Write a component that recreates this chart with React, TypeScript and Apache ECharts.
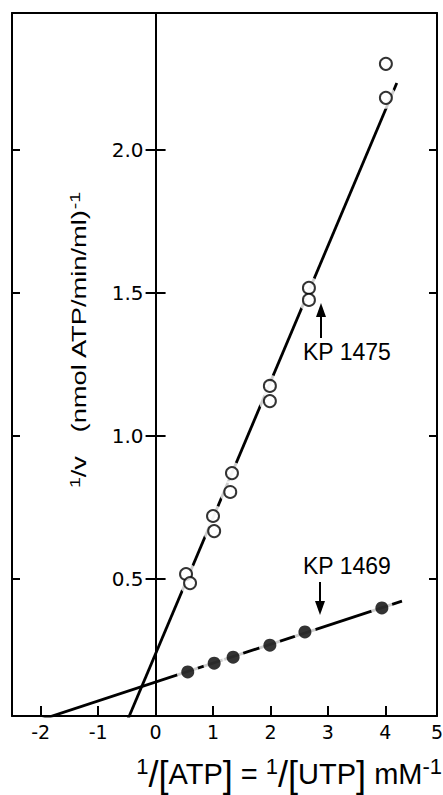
import React, { useEffect, useRef } from "react";
import * as echarts from "echarts";

// Axis ranges and tick labels
const xMin = -2.5;
const xMax = 4.9;
const yMin = 0.02;
const yMax = 2.48;
const xTickValues = [-2, -1, 0, 1, 2, 3, 4];
const xInnerTickValues = [-2, -1, 1, 2, 3, 4];
const xEndTickValues = [5];
const yTickValues = [0.5, 1.0, 1.5, 2.0];

// KP 1475 (open circles): [1/[ATP], 1/v]
const kp1475Points = [
  [0.53, 0.517],
  [0.6, 0.485],
  [1.0, 0.72],
  [1.02, 0.667],
  [1.3, 0.804],
  [1.33, 0.87],
  [1.99, 1.175],
  [1.99, 1.122],
  [2.67, 1.518],
  [2.67, 1.476],
  [4.01, 2.302],
  [4.01, 2.183],
];

// KP 1469 (filled circles)
const kp1469Points = [
  [0.56, 0.174],
  [1.02, 0.205],
  [1.35, 0.226],
  [1.99, 0.268],
  [2.6, 0.314],
  [3.94, 0.398],
];

// Fitted lines (end points)
const kp1475Fit = [
  [-0.5, 0],
  [4.2, 2.235],
];
const kp1469Fit = [
  [-2.1, 0],
  [4.29, 0.422],
];

const INK = "#000";
const TICK_FONT = "DejaVu Sans";
const TEXT_FONT = "Liberation Sans";

const W = 443;
const H = 795;
const GRID_LEFT = 12;
const GRID_RIGHT = 6;
const GRID_TOP = 13;
const GRID_BOTTOM = 79;

export default function App() {
  const ref = useRef<HTMLDivElement>(null);

  useEffect(() => {
    if (!ref.current) return;
    const chart = echarts.init(ref.current, undefined, { renderer: "svg" });
    const frameLine = { color: INK, width: 2 };
    const plotW = W - GRID_LEFT - GRID_RIGHT;
    // pixel distance from the left frame to x = 0, derived from the x scale
    const zeroFromLeft = ((0 - xMin) / (xMax - xMin)) * plotW;
    const zeroFromRight = plotW - zeroFromLeft;

    const noSplit = { splitLine: { show: false } };
    const tickLine = { color: INK, width: 2 };

    const option: any = {
      animation: false,
      backgroundColor: "#fff",
      grid: [
        {
          left: GRID_LEFT,
          right: GRID_RIGHT,
          top: GRID_TOP,
          bottom: GRID_BOTTOM,
          containLabel: false,
          outerBoundsMode: "none",
        },
        {
          left: GRID_LEFT,
          right: GRID_RIGHT,
          top: GRID_TOP,
          bottom: GRID_BOTTOM,
          containLabel: false,
          outerBoundsMode: "none",
        },
      ],
      xAxis: [
        {
          gridIndex: 0,
          type: "value",
          position: "bottom",
          min: xMin,
          max: xMax,
          axisLine: { show: true, onZero: false, lineStyle: frameLine },
          axisTick: {
            show: true,
            inside: true,
            length: 10,
            customValues: xInnerTickValues,
            lineStyle: tickLine,
          },
          axisLabel: {
            show: true,
            customValues: xTickValues,
            margin: 6,
            color: INK,
            fontFamily: TICK_FONT,
            fontSize: 19,
          },
          ...noSplit,
        },
        {
          gridIndex: 0,
          type: "value",
          position: "top",
          min: xMin,
          max: xMax,
          axisLine: { show: true, onZero: false, lineStyle: frameLine },
          axisTick: { show: false },
          axisLabel: { show: false },
          ...noSplit,
        },
        {
          // the "5" at the right-hand frame
          gridIndex: 1,
          type: "value",
          position: "bottom",
          min: xMin,
          max: 5,
          axisLine: { show: false, onZero: false },
          axisTick: { show: false },
          axisLabel: {
            show: true,
            customValues: xEndTickValues,
            margin: 6,
            color: INK,
            fontFamily: TICK_FONT,
            fontSize: 19,
          },
          ...noSplit,
        },
      ],
      yAxis: [
        {
          // the y axis drawn at x = 0, labels on its left
          gridIndex: 0,
          type: "value",
          position: "left",
          offset: -zeroFromLeft,
          min: yMin,
          max: yMax,
          axisLine: { show: true, onZero: false, lineStyle: frameLine },
          axisTick: {
            show: true,
            inside: false,
            length: 10,
            customValues: yTickValues,
            lineStyle: tickLine,
          },
          axisLabel: {
            show: true,
            customValues: yTickValues,
            formatter: (v: number) => v.toFixed(1),
            margin: 12,
            color: INK,
            fontFamily: TICK_FONT,
            fontSize: 20,
          },
          ...noSplit,
        },
        {
          // right half of the crossing ticks at x = 0
          gridIndex: 0,
          type: "value",
          position: "right",
          offset: -zeroFromRight,
          min: yMin,
          max: yMax,
          axisLine: { show: false, onZero: false },
          axisTick: {
            show: true,
            inside: false,
            length: 10,
            customValues: yTickValues,
            lineStyle: tickLine,
          },
          axisLabel: { show: false },
          ...noSplit,
        },
        {
          // left frame
          gridIndex: 0,
          type: "value",
          position: "left",
          min: yMin,
          max: yMax,
          axisLine: { show: true, onZero: false, lineStyle: frameLine },
          axisTick: {
            show: true,
            inside: true,
            length: 8,
            customValues: yTickValues,
            lineStyle: tickLine,
          },
          axisLabel: { show: false },
          ...noSplit,
        },
        {
          // right frame
          gridIndex: 0,
          type: "value",
          position: "right",
          min: yMin,
          max: yMax,
          axisLine: { show: true, onZero: false, lineStyle: frameLine },
          axisTick: {
            show: true,
            inside: true,
            length: 8,
            customValues: yTickValues,
            lineStyle: tickLine,
          },
          axisLabel: { show: false },
          ...noSplit,
        },
        {
          gridIndex: 1,
          type: "value",
          show: false,
          min: 0,
          max: 1,
        },
      ],
      series: [
        {
          name: "KP 1475 fit",
          type: "line",
          xAxisIndex: 0,
          yAxisIndex: 0,
          data: kp1475Fit,
          symbol: "none",
          lineStyle: { color: INK, width: 2.8 },
          z: 2,
          silent: true,
        },
        {
          name: "KP 1469 fit",
          type: "line",
          xAxisIndex: 0,
          yAxisIndex: 0,
          data: kp1469Fit,
          symbol: "none",
          lineStyle: { color: INK, width: 2.8 },
          z: 2,
          silent: true,
        },
        {
          name: "KP 1475 gap",
          type: "scatter",
          xAxisIndex: 0,
          yAxisIndex: 0,
          data: kp1475Points,
          symbolSize: 22,
          itemStyle: { color: "#fff" },
          z: 3,
          silent: true,
        },
        {
          name: "KP 1469 gap",
          type: "scatter",
          xAxisIndex: 0,
          yAxisIndex: 0,
          data: kp1469Points,
          symbolSize: 22,
          itemStyle: { color: "#fff" },
          z: 3,
          silent: true,
        },
        {
          name: "KP 1475",
          type: "scatter",
          xAxisIndex: 0,
          yAxisIndex: 0,
          data: kp1475Points,
          symbolSize: 12,
          itemStyle: { color: "#fff", borderColor: INK, borderWidth: 2 },
          z: 4,
        },
        {
          name: "KP 1469",
          type: "scatter",
          xAxisIndex: 0,
          yAxisIndex: 0,
          data: kp1469Points,
          symbolSize: 13,
          itemStyle: { color: INK },
          z: 4,
        },
      ],
      graphic: [
        {
          type: "text",
          x: 79,
          y: 340,
          rotation: Math.PI / 2,
          scaleX: 1.3,
          style: {
            text: "{s|1}{n|/v}{n|   (nmol ATP/min/ml)}{s|-1}",
            align: "center",
            verticalAlign: "middle",
            fill: INK,
            rich: {
              n: { fontFamily: TEXT_FONT, fontSize: 21, fill: INK, lineHeight: 24 },
              s: { fontFamily: TEXT_FONT, fontSize: 15, fill: INK, lineHeight: 10, verticalAlign: "top" },
            },
          },
        },
        {
          type: "text",
          x: 442,
          y: 774,
          style: {
            text: "{s|1}{b|/[}{n|ATP}{b|]}{n| = }{s|1}{b|/[}{n|UTP}{b|]}{n| mM}{s|-1}",
            align: "right",
            verticalAlign: "middle",
            fill: INK,
            rich: {
              n: { fontFamily: TEXT_FONT, fontSize: 29, fill: INK },
              b: { fontFamily: TEXT_FONT, fontSize: 36, fill: INK, lineHeight: 38 },
              s: { fontFamily: TEXT_FONT, fontSize: 22, fill: INK, lineHeight: 12, verticalAlign: "top" },
            },
          },
        },
        {
          type: "text",
          x: 303,
          y: 352,
          style: {
            text: "KP 1475",
            fontFamily: TEXT_FONT,
            fontSize: 23,
            fill: INK,
            align: "left",
            verticalAlign: "middle",
          },
        },
        {
          type: "line",
          shape: { x1: 321, y1: 338, x2: 321, y2: 312 },
          style: { stroke: INK, lineWidth: 2 },
        },
        {
          type: "polygon",
          shape: { points: [[321, 303], [316, 317], [326, 317]] },
          style: { fill: INK },
        },
        {
          type: "text",
          x: 303,
          y: 566,
          style: {
            text: "KP 1469",
            fontFamily: TEXT_FONT,
            fontSize: 23,
            fill: INK,
            align: "left",
            verticalAlign: "middle",
          },
        },
        {
          type: "line",
          shape: { x1: 320, y1: 582, x2: 320, y2: 606 },
          style: { stroke: INK, lineWidth: 2 },
        },
        {
          type: "polygon",
          shape: { points: [[320, 615], [315, 601], [325, 601]] },
          style: { fill: INK },
        },
      ],
    };

    chart.setOption(option);
    return () => chart.dispose();
  }, []);

  return (
    <div
      ref={ref}
      style={{ position: "fixed", left: 0, top: 0, width: W, height: H, background: "#fff" }}
    />
  );
}
